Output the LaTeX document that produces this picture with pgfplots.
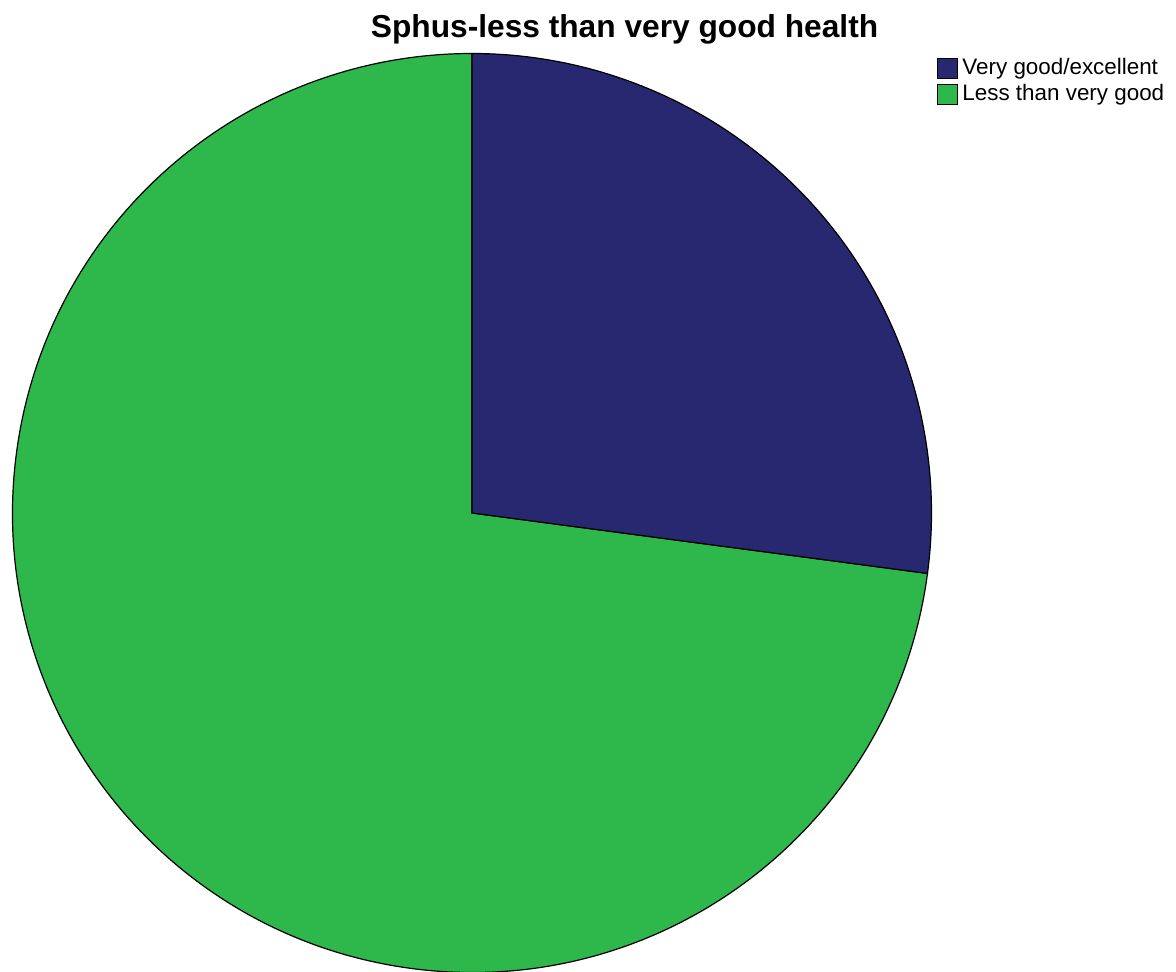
\documentclass[border=0pt]{standalone}
\usepackage{pgfplots}
\usepackage{pgfplotstable}
\pgfplotsset{compat=1.18}
\usepackage{fontspec}
\setmainfont{Liberation Sans}
\definecolor{vgblue}{RGB}{40,40,112}
\definecolor{lgreen}{RGB}{46,183,74}
\pgfplotstableread{
label value
VeryGood 27.1
LessThan 72.9
}\piedata
\begin{document}
\begin{tikzpicture}
\useasboundingbox (0,0) rectangle (1176bp,972bp);
\pgfplotstablegetelem{0}{value}\of\piedata \let\va\pgfplotsretval
\pgfplotstablegetelem{1}{value}\of\piedata \let\vb\pgfplotsretval
\pgfmathsetmacro{\tot}{\va+\vb}
\pgfmathsetmacro{\angA}{90-360*(\va/\tot)}
\pgfmathsetmacro{\angB}{\angA-360*(\vb/\tot)}
\begin{axis}[
  at={(472bp,459bp)}, anchor=center,
  scale only axis, width=919bp, height=919bp,
  xmin=-1, xmax=1, ymin=-1, ymax=1,
  hide axis, clip=false,
  title={Sphus-less than very good health},
  title style={at={(axis description cs:0.666,1.011)}, anchor=base,
    font=\bfseries\fontsize{31.7bp}{36bp}\selectfont, inner sep=0pt},
  legend style={at={(axis description cs:1.0065,0.996)}, anchor=north west,
    draw=none, fill=none, inner sep=0pt, outer sep=0pt,
    font=\fontsize{22.4bp}{26bp}\selectfont, row sep=4bp,
    nodes={inner sep=1bp, text height=16bp, text depth=4bp},
    /tikz/every odd column/.append style={column sep=3bp}},
  legend cell align=left,
  legend image code/.code={\draw[#1] (0bp,-10bp) rectangle (20bp,10bp);},
]
\addlegendimage{fill=vgblue, draw=black, line width=1bp}
\addlegendentry{Very good/excellent}
\addlegendimage{fill=lgreen, draw=black, line width=1bp}
\addlegendentry{Less than very good}
\filldraw[fill=lgreen, draw=black, line width=1.2bp] (axis cs:0,0) -- (axis cs:{cos(\angA)},{sin(\angA)}) arc[start angle=\angA, end angle=\angB, radius=459.5bp] -- cycle;
\filldraw[fill=vgblue, draw=black, line width=1.2bp] (axis cs:0,0) -- (axis cs:0,1) arc[start angle=90, end angle=\angA, radius=459.5bp] -- cycle;
\end{axis}
\end{tikzpicture}
\end{document}
